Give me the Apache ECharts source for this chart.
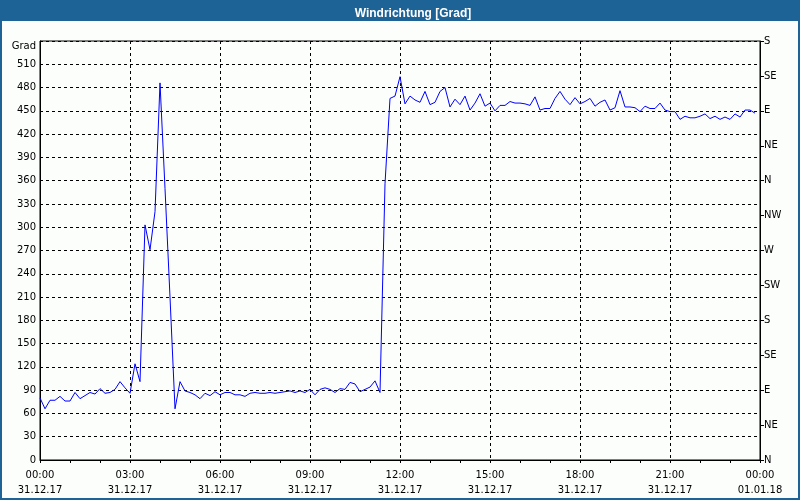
<!DOCTYPE html>
<html>
<head>
<meta charset="utf-8">
<script src="https://cdn.jsdelivr.net/npm/echarts@6/dist/echarts.min.js"></script>
<style>
html,body{margin:0;padding:0;background:#fcfefc;}
#chart{width:800px;height:500px;}
</style>
</head>
<body>
<div id="chart"></div>
<script>
// Wind direction in degrees, one value every 10 minutes from 31.12.17 00:00
var sampleMinutes = 10;
var windDir = [
  80, 66, 77, 77, 82, 76, 76, 87, 79, 83, 87, 85, 92, 86, 87, 91, 101, 93,
  86, 124, 101, 303, 271, 320, 486, 350, 210, 66, 101, 89, 87, 84, 79, 86, 83, 88,
  84, 87, 87, 84, 84, 82, 86, 87, 86, 86, 87, 86, 87, 88, 89, 87, 89, 87,
  91, 84, 91, 93, 91, 87, 92, 91, 100, 98, 88, 91, 94, 102, 87, 356, 466, 469,
  494, 459, 469, 464, 461, 475, 458, 461, 475, 480, 455, 465, 458, 469, 451, 460, 472, 456,
  460, 450, 457, 457, 462, 460, 460, 459, 457, 468, 451, 453, 453, 466, 475, 465, 458, 467,
  459, 462, 466, 456, 461, 464, 451, 454, 476, 455, 455, 454, 449, 456, 453, 453, 460, 451,
  449, 449, 439, 443, 441, 441, 443, 446, 440, 443, 439, 442, 439, 446, 442, 451, 451, 447
];
var xTickLabels = [
  '00:00\n31.12.17', '03:00\n31.12.17', '06:00\n31.12.17', '09:00\n31.12.17',
  '12:00\n31.12.17', '15:00\n31.12.17', '18:00\n31.12.17', '21:00\n31.12.17',
  '00:00\n01.01.18'
];
var dirLabels = ['N', 'NE', 'E', 'SE', 'S', 'SW', 'W', 'NW', 'N', 'NE', 'E', 'SE', 'S'];
var titleText = 'Windrichtung [Grad]';
var unitLabel = 'Grad';

var FONT = 'DejaVu Sans';
var chart = echarts.init(document.getElementById('chart'), null, {renderer: 'canvas'});
var seriesData = windDir.map(function (v, i) { return [i * sampleMinutes, v]; });

chart.setOption({
  backgroundColor: '#fcfefc',
  animation: false,
  title: {
    text: titleText,
    left: 408,
    top: 3,
    textAlign: 'center',
    textStyle: {color: '#ffffff', fontFamily: 'Liberation Sans', fontWeight: 'bold', fontSize: 12}
  },
  graphic: [
    {type: 'rect', z: -1, shape: {x: 0, y: 0, width: 800, height: 21}, style: {fill: '#1e6396'}},
    {type: 'rect', z: 100, shape: {x: 1, y: 1, width: 798, height: 498}, style: {fill: null, stroke: '#1e6396', lineWidth: 2}}
  ],
  grid: {
    left: 40, right: 40, top: 41, bottom: 40,
    show: true, borderColor: '#000', borderWidth: 1, backgroundColor: 'transparent'
  },
  xAxis: {
    type: 'value', min: 0, max: 1440, interval: 180,
    axisLine: {show: true, lineStyle: {color: '#000', width: 1}},
    axisTick: {show: true, length: 3, lineStyle: {color: '#000'}},
    minorTick: {show: true, splitNumber: 3, length: 3, lineStyle: {color: '#000'}},
    splitLine: {show: true, lineStyle: {color: '#000', type: [3, 3], width: 1}},
    axisLabel: {
      color: '#000', fontFamily: FONT, fontSize: 10, lineHeight: 15, margin: 8,
      formatter: function (v) { return xTickLabels[Math.round(v / 180)]; }
    }
  },
  yAxis: [
    {
      type: 'value', min: 0, max: 540, interval: 30, position: 'left',
      axisLine: {show: true, lineStyle: {color: '#000'}},
      axisTick: {show: false},
      splitLine: {show: true, lineStyle: {color: '#000', type: [3, 3], width: 1}},
      axisLabel: {
        color: '#000', fontFamily: FONT, fontSize: 10, margin: 4,
        formatter: function (v) { return v === 540 ? '{g|' + unitLabel + '}' : String(v); },
        rich: {g: {color: '#000', fontFamily: FONT, fontSize: 10, padding: [10, 0, 0, 0]}}
      }
    },
    {
      type: 'value', min: 0, max: 540, interval: 45, position: 'right',
      axisLine: {show: true, lineStyle: {color: '#000'}},
      axisTick: {show: true, length: 4, inside: false, lineStyle: {color: '#000'}},
      splitLine: {show: false},
      axisLabel: {
        color: '#000', fontFamily: FONT, fontSize: 10, margin: 4,
        formatter: function (v) { return dirLabels[Math.round(v / 45)]; }
      }
    }
  ],
  series: [{
    type: 'line',
    data: seriesData,
    showSymbol: false,
    symbol: 'none',
    lineStyle: {color: '#0000ff', width: 1},
    itemStyle: {color: '#0000ff'}
  }]
});
</script>
</body>
</html>
